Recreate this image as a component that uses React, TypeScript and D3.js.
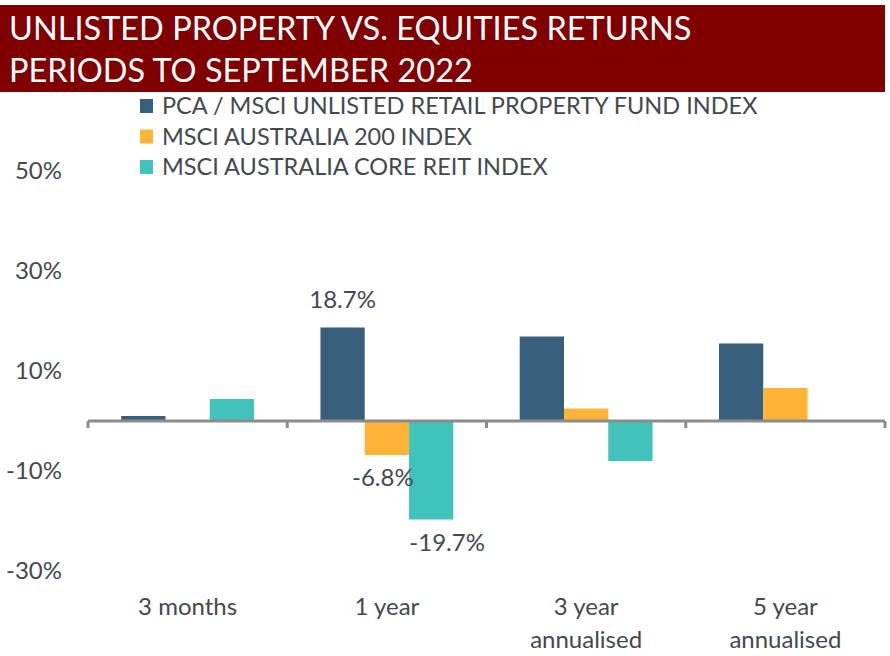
import { useEffect, useRef } from "react";
import * as d3 from "d3";

const categories = [["3 months"], ["1 year"], ["3 year", "annualised"], ["5 year", "annualised"]];
const seriesNames = [
  "PCA / MSCI UNLISTED RETAIL PROPERTY FUND INDEX",
  "MSCI AUSTRALIA 200 INDEX",
  "MSCI AUSTRALIA CORE REIT INDEX",
];
const unlisted = [1.0, 18.7, 16.9, 15.5];
const asx200 = [0, -6.8, 2.5, 6.6];
const reit = [4.4, -19.7, -8.0, 0];
const yTicks = [50, 30, 10, -10, -30];
// which bars carry a value label: [category index, series index]
const labelled = [
  [1, 0],
  [1, 1],
  [1, 2],
];
const colors = ["#385f7b", "#fdb436", "#41c3bb"];

export default function App() {
  const svgRef = useRef<SVGSVGElement>(null);

  useEffect(() => {
    if (!svgRef.current) return;
    const width = 890;
    const height = 656;
    const font = "Lato, 'Open Sans', sans-serif";
    const textColor = "#44494f";

    const svg = d3.select(svgRef.current);
    svg.selectAll("*").remove();
    svg.attr("width", width).attr("height", height);

    // Title banner
    svg.append("rect").attr("x", 0).attr("y", 5).attr("width", 885).attr("height", 87).attr("fill", "#800000");
    ["UNLISTED PROPERTY VS. EQUITIES RETURNS", "PERIODS TO SEPTEMBER 2022"].forEach((t, i) => {
      svg
        .append("text")
        .attr("x", 9)
        .attr("y", 40 + i * 42)
        .attr("fill", "#fff")
        .attr("font-family", font)
        .attr("font-size", 32.5)
        .text(t);
    });

    // Legend
    seriesNames.forEach((name, i) => {
      const cy = 106 + i * 30.5;
      svg.append("rect").attr("x", 140).attr("y", cy - 7).attr("width", 13).attr("height", 14).attr("fill", colors[i]);
      svg
        .append("text")
        .attr("x", 162)
        .attr("y", cy)
        .attr("dy", "0.35em")
        .attr("fill", textColor)
        .attr("font-family", font)
        .attr("font-size", 23.5)
        .text(name);
    });

    const series = [unlisted, asx200, reit];
    const x0 = d3.scaleBand<number>().domain(d3.range(categories.length)).range([88, 885]);
    const x1 = d3
      .scaleBand<number>()
      .domain(d3.range(series.length))
      .range([0, x0.bandwidth()])
      .paddingOuter(0.75)
      .paddingInner(0);
    const y = d3.scaleLinear().domain([-30, 50]).range([571, 171]);

    // Y labels
    svg
      .append("g")
      .selectAll("text")
      .data(yTicks)
      .join("text")
      .attr("x", 62)
      .attr("y", (d) => y(d))
      .attr("dy", "0.35em")
      .attr("text-anchor", "end")
      .attr("fill", textColor)
      .attr("font-family", font)
      .attr("font-size", 24)
      .text((d) => `${d}%`);

    // Bars
    const groups = svg
      .append("g")
      .selectAll("g")
      .data(categories.map((_, ci) => ci))
      .join("g")
      .attr("transform", (ci) => `translate(${x0(ci)},0)`);

    groups
      .selectAll("rect")
      .data((ci) => series.map((s, si) => ({ si, v: s[ci] })))
      .join("rect")
      .attr("x", (d) => x1(d.si)!)
      .attr("width", x1.bandwidth())
      .attr("y", (d) => y(Math.max(0, d.v)))
      .attr("height", (d) => Math.abs(y(d.v) - y(0)))
      .attr("fill", (d) => colors[d.si]);

    // Axis at zero
    const axis = svg.append("g").attr("transform", `translate(0,${y(0)})`);
    axis
      .append("line")
      .attr("x1", 88)
      .attr("x2", 885)
      .attr("stroke", "#8c8c8c")
      .attr("stroke-width", 3);
    const tickXs = [...categories.map((_, ci) => x0(ci)!), 885];
    axis
      .selectAll("line.tick")
      .data(tickXs)
      .join("line")
      .attr("class", "tick")
      .attr("x1", (d) => d)
      .attr("x2", (d) => d)
      .attr("y1", 0)
      .attr("y2", 7)
      .attr("stroke", "#8c8c8c")
      .attr("stroke-width", 3);

    // Category labels
    categories.forEach((lines, ci) => {
      const cx = x0(ci)! + x0.bandwidth() / 2;
      lines.forEach((ln, li) => {
        svg
          .append("text")
          .attr("x", cx)
          .attr("y", 607 + li * 33)
          .attr("dy", "0.35em")
          .attr("text-anchor", "middle")
          .attr("fill", textColor)
          .attr("font-family", font)
          .attr("font-size", 24)
          .text(ln);
      });
    });

    // Value labels (the negative ones sit a little to the right of their bars)
    labelled.forEach(([ci, si]) => {
      const v = series[si][ci];
      const shift = v >= 0 ? 0 : si === 2 ? 16 : -4;
      const cx = x0(ci)! + x1(si)! + x1.bandwidth() / 2 + shift;
      svg
        .append("text")
        .attr("x", cx)
        .attr("y", v >= 0 ? y(v) - 28 : y(v) + 23)
        .attr("dy", "0.35em")
        .attr("text-anchor", "middle")
        .attr("fill", textColor)
        .attr("font-family", font)
        .attr("font-size", 24)
        .text(`${v.toFixed(1)}%`);
    });
  }, []);

  return (
    <div style={{ position: "absolute", left: 0, top: 0, background: "#fff" }}>
      <svg ref={svgRef} style={{ display: "block" }} />
    </div>
  );
}
